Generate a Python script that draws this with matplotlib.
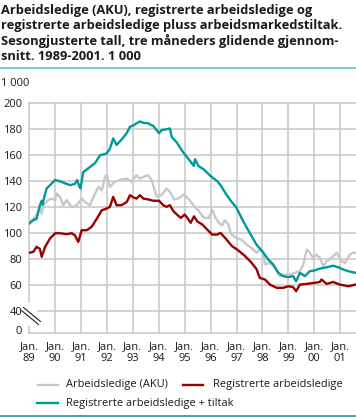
import matplotlib
matplotlib.use("Agg")
import matplotlib.pyplot as plt
from matplotlib.lines import Line2D
from matplotlib.patches import Rectangle

# ---------------- data (decimal years, thousands) ----------------
aku_t = [1989.00, 1989.15, 1989.28, 1989.41, 1989.48, 1989.54, 1989.73, 1989.86, 1990.00, 1990.06,
         1990.18, 1990.31, 1990.44, 1990.64, 1990.83, 1991.02, 1991.15, 1991.34, 1991.54, 1991.67,
         1991.80, 1991.92, 1991.99, 1992.11, 1992.30, 1992.50, 1992.76, 1992.95, 1993.14, 1993.27,
         1993.40, 1993.59, 1993.72, 1993.92, 1994.11, 1994.30, 1994.46, 1994.59, 1994.78, 1994.97,
         1995.17, 1995.36, 1995.55, 1995.74, 1995.94, 1996.06, 1996.19, 1996.32, 1996.45, 1996.55,
         1996.68, 1996.80, 1997.00, 1997.19, 1997.39, 1997.58, 1997.77, 1997.90, 1998.03, 1998.10,
         1998.29, 1998.48, 1998.67, 1998.87, 1999.06, 1999.25, 1999.45, 1999.58, 1999.71, 1999.83,
         1999.96, 2000.09, 2000.22, 2000.35, 2000.48, 2000.67, 2000.87, 2001.06, 2001.19, 2001.38,
         2001.51, 2001.60]
aku_v = [108.7, 111.0, 114.0, 119.0, 115.0, 121.6, 125.5, 126.7, 125.5, 130.6,
         128.0, 121.6, 125.5, 120.0, 121.6, 126.7, 124.0, 121.6, 130.6, 135.7,
         133.0, 143.4, 144.7, 135.7, 139.6, 141.0, 142.0, 139.6, 144.7, 142.0,
         143.4, 144.7, 141.0, 128.0, 129.3, 134.5, 131.0, 126.0, 127.0, 129.7,
         126.0, 120.8, 117.0, 111.8, 111.8, 118.0, 111.8, 108.0, 106.0, 110.0,
         107.0, 99.0, 96.4, 95.0, 91.3, 88.7, 85.0, 87.4, 85.0, 76.0,
         77.2, 73.3, 67.0, 68.2, 68.2, 69.5, 70.8, 75.9, 87.4, 85.0,
         81.0, 83.6, 81.0, 74.6, 78.5, 81.0, 85.0, 78.5, 77.2, 83.6,
         85.0, 85.0]

reg_t = [1989.00, 1989.15, 1989.28, 1989.41, 1989.48, 1989.61, 1989.80, 1990.00, 1990.18, 1990.44,
         1990.64, 1990.76, 1990.89, 1991.02, 1991.22, 1991.41, 1991.60, 1991.80, 1991.99, 1992.11,
         1992.24, 1992.37, 1992.56, 1992.76, 1992.89, 1993.02, 1993.14, 1993.27, 1993.40, 1993.59,
         1993.79, 1994.01, 1994.17, 1994.30, 1994.43, 1994.56, 1994.70, 1994.85, 1995.00, 1995.10,
         1995.23, 1995.36, 1995.49, 1995.68, 1995.87, 1996.06, 1996.26, 1996.38, 1996.60, 1996.83,
         1997.02, 1997.30, 1997.56, 1997.77, 1997.90, 1998.10, 1998.29, 1998.55, 1998.81, 1999.00,
         1999.19, 1999.30, 1999.45, 1999.71, 2000.00, 2000.22, 2000.28, 2000.48, 2000.73, 2000.99,
         2001.32, 2001.60]
reg_v = [85.0, 85.6, 89.5, 88.0, 81.8, 89.5, 96.0, 100.0, 100.0, 99.3,
         100.0, 98.5, 93.3, 102.3, 102.3, 105.0, 111.0, 117.7, 119.0, 120.3,
         128.0, 121.6, 121.6, 124.0, 129.3, 127.5, 126.7, 129.3, 126.7, 126.0,
         125.0, 125.0, 121.6, 120.3, 121.6, 117.0, 114.4, 111.8, 114.4, 111.8,
         108.0, 113.0, 109.0, 106.7, 102.8, 99.0, 99.0, 100.3, 95.5, 90.0,
         87.5, 83.0, 77.8, 72.5, 65.6, 64.4, 60.5, 58.0, 58.0, 59.2,
         58.5, 55.4, 60.5, 61.0, 61.8, 62.5, 64.4, 61.0, 62.5, 60.5,
         59.2, 60.5]

tilt_t = [1989.00, 1989.15, 1989.28, 1989.41, 1989.48, 1989.51, 1989.58, 1989.67, 1989.80, 1990.00,
          1990.18, 1990.44, 1990.57, 1990.76, 1990.85, 1990.93, 1990.98, 1991.08, 1991.28, 1991.54,
          1991.73, 1991.99, 1992.11, 1992.24, 1992.37, 1992.56, 1992.76, 1992.89, 1993.02, 1993.14,
          1993.27, 1993.40, 1993.59, 1993.79, 1994.01, 1994.11, 1994.30, 1994.43, 1994.50, 1994.69,
          1994.88, 1995.01, 1995.21, 1995.35, 1995.40, 1995.53, 1995.73, 1996.00, 1996.26, 1996.40,
          1996.61, 1996.80, 1997.00, 1997.26, 1997.51, 1997.77, 1998.00, 1998.23, 1998.42, 1998.62,
          1998.81, 1999.00, 1999.19, 1999.30, 1999.45, 1999.64, 1999.83, 2000.00, 2000.22, 2000.48,
          2000.73, 2000.93, 2001.13, 2001.32, 2001.60]
tilt_v = [107.5, 110.0, 111.0, 121.6, 125.0, 122.0, 128.0, 134.5, 137.0, 141.0,
          140.0, 138.0, 137.0, 138.0, 141.0, 136.0, 134.5, 147.0, 150.0, 154.0,
          160.0, 161.4, 165.0, 173.0, 168.0, 172.0, 177.0, 182.0, 183.0, 184.6,
          186.0, 185.0, 184.6, 182.5, 177.0, 179.4, 180.0, 180.7, 174.0, 170.0,
          164.0, 160.5, 155.6, 151.8, 157.0, 151.8, 149.2, 144.0, 140.0, 136.5,
          129.7, 124.5, 119.5, 109.2, 100.3, 91.3, 86.0, 79.7, 75.9, 69.5,
          66.9, 66.2, 67.0, 63.0, 69.5, 67.0, 70.8, 71.3, 72.8, 73.8,
          75.0, 73.8, 72.0, 70.8, 69.5]

years = list(range(1989, 2002))
xtick_labels = [f"Jan.\n{y % 100:02d}" for y in years]
ytick_vals = [40, 60, 80, 100, 120, 140, 160, 180, 200]
ytick_labels = [str(v) for v in ytick_vals]
zero_label = "0"

title_lines = ["Arbeidsledige (AKU), registrerte arbeidsledige og",
               "registrerte arbeidsledige pluss arbeidsmarkedstiltak.",
               "Sesongjusterte tall, tre måneders glidende gjennom-",
               "snitt. 1989-2001. 1 000"]
unit_label = "1 000"
series_names = ["Arbeidsledige (AKU)", "Registrerte arbeidsledige",
                "Registrerte arbeidsledige + tiltak"]

# ---------------- style ----------------
W, H = 356, 417
DPI = 100
FONT = "Open Sans"
C_GRAY = "#c8c8c8"
C_RED = "#990000"
C_TEAL = "#009999"
C_GRID = "#c8c8c8"
C_TXT = "#1a1a1a"

fig = plt.figure(figsize=(W / DPI, H / DPI), dpi=DPI)
fig.patch.set_facecolor("white")

def fx(px):
    return px / W

def fy(py):
    return 1 - py / H

# axes geometry (pixels)
ax_left, ax_right = 29.3, 356.0
ax_top, ax_bot = 103.3, 333.3
ax = fig.add_axes([fx(ax_left), fy(ax_bot), fx(ax_right - ax_left), (ax_bot - ax_top) / H])
YBOT = 23.0
ax.set_ylim(YBOT, 200)
ax.set_xlim(1989.0, 1989.0 + (ax_right - ax_left) / 25.9)
for s in ax.spines.values():
    s.set_visible(False)
ax.set_facecolor("none")

# grid lines
for v in ytick_vals + [YBOT]:
    ax.axhline(v, color=C_GRID, lw=1.1, zorder=1, clip_on=False)
for y in years:
    ax.axvline(y, color=C_GRID, lw=1.1, zorder=1, clip_on=False)

ax.set_yticks(ytick_vals)
ax.set_yticklabels(ytick_labels)
ax.set_xticks(years)
ax.set_xticklabels(xtick_labels, linespacing=1.15)
ax.tick_params(axis="y", length=0, pad=5, labelsize=8, labelcolor=C_TXT)
ax.tick_params(axis="x", length=0, pad=5.5, labelsize=8, labelcolor=C_TXT)
for lab in ax.get_xticklabels() + ax.get_yticklabels():
    lab.set_fontfamily(FONT)

# "0" label of the broken axis
fig.text(fx(21.5), fy(333.5), zero_label, fontsize=8, fontfamily=FONT, color=C_TXT,
         ha="right", va="baseline")

lw = 1.7
ax.plot(aku_t, aku_v, color=C_GRAY, lw=lw, zorder=3, solid_joinstyle="round")
ax.plot(reg_t, reg_v, color=C_RED, lw=lw, zorder=4, solid_joinstyle="round")
ax.plot(tilt_t, tilt_v, color=C_TEAL, lw=lw, zorder=5, solid_joinstyle="round")

# axis break marker
fig.patches.append(Rectangle((fx(25.5), fy(326)), fx(11), (326 - 303) / H,
                             transform=fig.transFigure, facecolor="white",
                             edgecolor="none", zorder=10))
for (x0, y0, x1, y1) in [(23.5, 307.5, 40.5, 321.5), (21.5, 310.5, 38.5, 324.5)]:
    fig.add_artist(Line2D([fx(x0), fx(x1)], [fy(y0), fy(y1)], color="#222222",
                          lw=0.8, transform=fig.transFigure, zorder=11))

# title
renderer = fig.canvas.get_renderer()
def fit(t, target):
    bb = t.get_window_extent(renderer)
    t.set_fontsize(t.get_fontsize() * target / bb.width)

baselines = [14.0, 29.5, 45.0, 60.5]
tobjs = []
for line, b in zip(title_lines, baselines):
    t = fig.text(fx(1), fy(b), line, fontsize=9.5, fontweight="bold",
                 fontfamily=FONT, color=C_TXT, va="baseline", ha="left")
    tobjs.append(t)
fit(tobjs[1], 343)
for t in tobjs:
    t.set_fontsize(tobjs[1].get_fontsize())

fig.add_artist(Line2D([0, 1], [fy(68.3), fy(68.3)], color="#5cc3c3", lw=1.2,
                      transform=fig.transFigure))
fig.add_artist(Line2D([0, 1], [fy(415.5), fy(415.5)], color="#1a9e9e", lw=1.2,
                      transform=fig.transFigure))

fig.text(fx(1), fy(85.5), unit_label, fontsize=8, fontfamily=FONT, color=C_TXT,
         va="baseline", ha="left")

# legend (manual)
leg = [(38.3, 58.3, 385.0, C_GRAY, series_names[0], 66.0, 102.0),
       (183.3, 203.3, 385.0, C_RED, series_names[1], 213.3, 123.0),
       (37.0, 58.3, 403.3, C_TEAL, series_names[2], 66.0, None)]
lobjs = []
for x0, x1, yy, c, name, tx, tw in leg:
    fig.add_artist(Line2D([fx(x0), fx(x1)], [fy(yy), fy(yy)], color=c, lw=lw,
                          transform=fig.transFigure))
    t = fig.text(fx(tx), fy(yy), name, fontsize=8, fontfamily=FONT, color=C_TXT,
                 va="center", ha="left")
    lobjs.append((t, tw))
fit(lobjs[0][0], lobjs[0][1])
for t, _ in lobjs:
    t.set_fontsize(lobjs[0][0].get_fontsize())

fig.savefig("out.png", dpi=DPI)
